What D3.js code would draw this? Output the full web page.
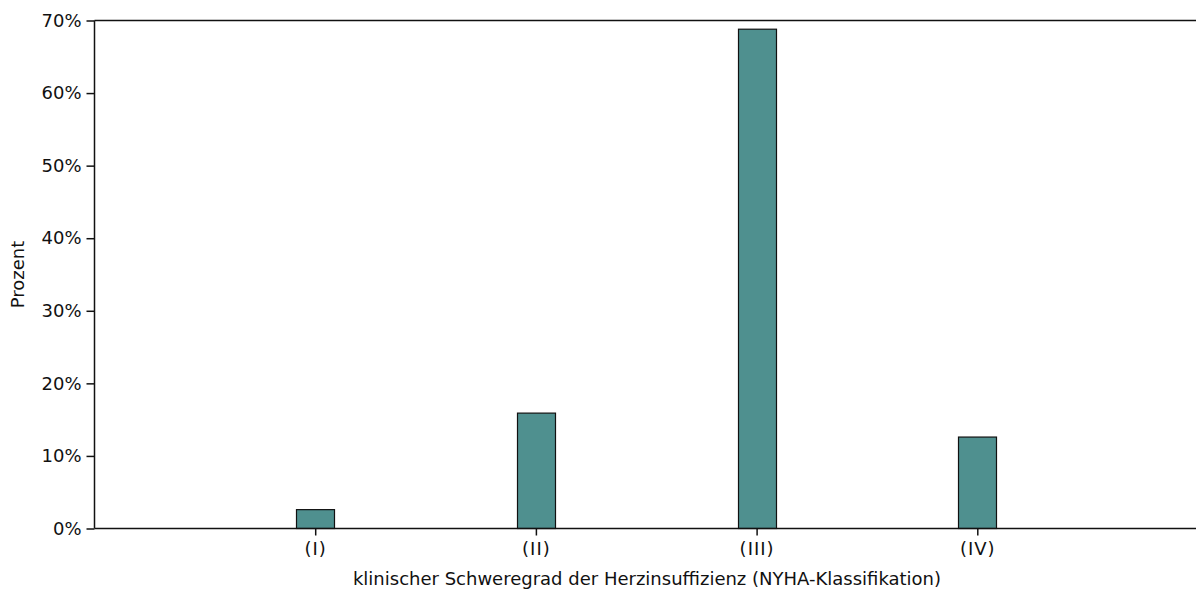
<!DOCTYPE html>
<html><head><meta charset="utf-8">
<script src="https://cdn.jsdelivr.net/npm/d3@7"></script>
<style>body{margin:0;background:#fff}svg{display:block}text{font-family:"DejaVu Sans",Verdana,sans-serif;fill:#111}</style>
</head><body><svg id="c" width="1196" height="591"></svg>
<script>
const categories = ["(I)", "(II)", "(III)", "(IV)"];
const values = [2.6, 15.9, 68.8, 12.6];
const yTicks = [0, 10, 20, 30, 40, 50, 60, 70];
const xTitle = "klinischer Schweregrad der Herzinsuffizienz (NYHA-Klassifikation)";
const yTitle = "Prozent";

const W = 1196, H = 591, m = {l: 94.5, r: -2, t: 20.5, b: 62};
const svg = d3.select("#c");
const x = d3.scaleLinear().domain([0, categories.length + 1]).range([m.l, W - m.r]);
const y = d3.scaleLinear().domain([0, 70]).range([H - m.b - 0.5, m.t]);
const bw = 38;

svg.append("g").selectAll("rect").data(values).join("rect")
  .attr("x", (d, i) => Math.round(x(i + 1) - bw / 2) + 0.5)
  .attr("y", d => y(d))
  .attr("width", bw)
  .attr("height", d => y(0) - y(d))
  .attr("fill", "#4f908f").attr("stroke", "#111").attr("stroke-width", 1.2);

const ya = svg.append("g").attr("transform", `translate(${m.l},0)`)
  .call(d3.axisLeft(y).tickValues(yTicks).tickSize(8).tickPadding(5).tickFormat(d => d + "%"));
ya.selectAll("text").style("font-size", "18px");

const xa = svg.append("g").attr("transform", `translate(0,${y(0)})`)
  .call(d3.axisBottom(x).tickValues(d3.range(1, categories.length + 1)).tickSize(7).tickPadding(7).tickFormat(d => categories[d - 1]))
ya.select(".domain").remove();
xa.select(".domain").remove();
xa.selectAll("text").style("font-size", "18px").style("letter-spacing", "1px");
svg.selectAll(".tick line").attr("stroke", "#111").attr("stroke-width", 1.5);

svg.append("line").attr("x1", m.l).attr("x2", W).attr("y1", y(0)).attr("y2", y(0)).attr("stroke", "#111").attr("stroke-width", 1.5);
svg.append("line").attr("x1", m.l).attr("x2", W).attr("y1", m.t).attr("y2", m.t).attr("stroke", "#111").attr("stroke-width", 1.5);
svg.append("line").attr("x1", m.l).attr("x2", m.l).attr("y1", m.t).attr("y2", y(0)).attr("stroke", "#111").attr("stroke-width", 1.5);

svg.append("text").attr("x", 647).attr("y", 585).attr("text-anchor", "middle").style("font-size", "18px").text(xTitle);
svg.append("text").attr("transform", `translate(24,${(m.t + y(0)) / 2}) rotate(-90)`).attr("text-anchor", "middle").style("font-size", "18px").text(yTitle);
</script></body></html>
